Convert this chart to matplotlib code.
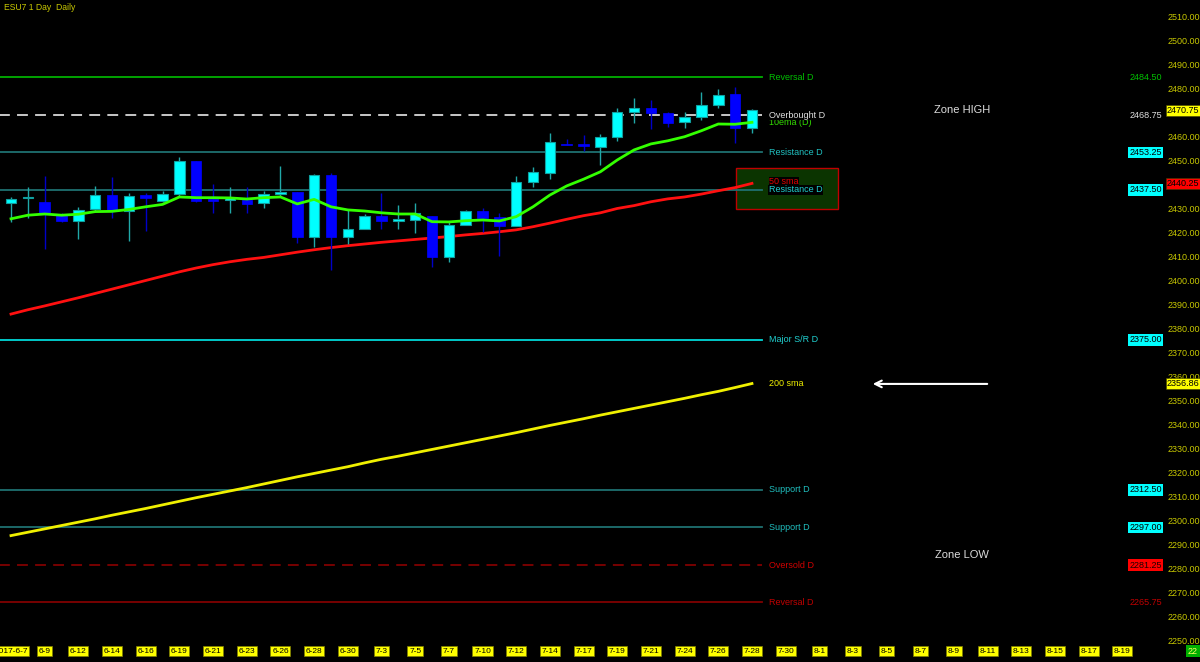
import numpy as np
import matplotlib
matplotlib.use('Agg')
import matplotlib.pyplot as plt
from matplotlib.patches import Rectangle

plt.rcParams['font.family'] = ['Liberation Sans', 'DejaVu Sans']

# daily candles, ESU7
opens = [2432.1, 2434.0, 2432.4, 2427.5, 2424.7, 2429.4, 2435.4, 2428.9, 2435.3, 2432.9,
         2435.8, 2449.6, 2433.5, 2433.4, 2433.3, 2432.0, 2436.0, 2436.7, 2417.8, 2443.6,
         2418.0, 2421.4, 2426.8, 2424.7, 2424.9, 2426.8, 2409.6, 2423.1, 2428.7, 2426.1,
         2422.6, 2440.7, 2444.7, 2456.75, 2456.75, 2455.5, 2459.7, 2470.0, 2471.7, 2469.4,
         2465.7, 2467.8, 2472.8, 2477.5, 2463.5]
highs = [2434.6, 2438.9, 2443.3, 2428.0, 2430.3, 2439.2, 2442.8, 2436.1, 2436.4, 2437.1,
         2451.4, 2449.6, 2440.0, 2438.6, 2438.6, 2437.0, 2447.5, 2436.7, 2444.2, 2444.7,
         2429.2, 2427.5, 2436.4, 2431.2, 2432.0, 2426.8, 2424.7, 2429.0, 2429.9, 2427.8,
         2443.5, 2447.0, 2461.1, 2458.75, 2460.4, 2460.8, 2471.7, 2476.0, 2475.0, 2469.9,
         2470.1, 2478.3, 2479.6, 2480.3, 2471.4]
lows = [2424.2, 2425.8, 2412.8, 2424.3, 2417.0, 2428.5, 2425.7, 2416.4, 2420.4, 2432.4,
        2435.0, 2432.5, 2427.8, 2427.8, 2428.0, 2430.0, 2434.7, 2415.3, 2413.9, 2404.2,
        2415.0, 2421.4, 2421.2, 2421.1, 2419.5, 2405.3, 2407.6, 2423.1, 2420.1, 2410.0,
        2422.6, 2438.9, 2442.0, 2456.25, 2453.9, 2447.9, 2458.0, 2465.5, 2462.8, 2463.6,
        2463.5, 2466.7, 2471.5, 2457.0, 2461.4]
closes = [2433.7, 2434.4, 2427.5, 2424.7, 2429.2, 2435.4, 2429.2, 2435.0, 2434.3, 2435.7,
          2449.6, 2433.1, 2433.0, 2434.2, 2431.5, 2436.0, 2436.8, 2417.8, 2443.6, 2418.0,
          2421.2, 2426.8, 2424.7, 2425.1, 2427.8, 2409.5, 2423.1, 2428.7, 2425.7, 2422.6,
          2440.8, 2444.9, 2457.4, 2456.25, 2455.75, 2459.7, 2470.1, 2471.7, 2469.7, 2465.5,
          2467.8, 2472.9, 2477.1, 2463.5, 2470.75]

ema10 = [2425.5, 2427.0, 2427.5, 2427.0, 2427.4, 2428.5, 2428.6, 2429.4, 2430.5, 2431.5,
         2434.6, 2434.3, 2434.3, 2434.2, 2433.75, 2434.3, 2434.6, 2431.7, 2433.6, 2430.5,
         2429.2, 2428.75, 2428.0, 2427.5, 2427.5, 2424.3, 2424.2, 2424.7, 2425.0, 2424.6,
         2426.4, 2430.5, 2435.4, 2439.2, 2442.0, 2445.1, 2450.0, 2454.2, 2456.7, 2458.0,
         2459.7, 2462.2, 2465.0, 2464.9, 2465.7]
sma50 = [2385.8, 2387.6, 2389.2, 2390.9, 2392.6, 2394.4, 2396.2, 2398.0, 2399.8, 2401.6,
         2403.4, 2405.0, 2406.4, 2407.6, 2408.6, 2409.4, 2410.5, 2411.6, 2412.6, 2413.5,
         2414.3, 2415.0, 2415.7, 2416.3, 2416.9, 2417.5, 2418.1, 2418.8, 2419.4, 2420.1,
         2420.9, 2422.2, 2423.7, 2425.3, 2426.8, 2428.0, 2429.8, 2431.0, 2432.6, 2433.8,
         2434.6, 2435.8, 2437.2, 2438.5, 2440.25]
sma200 = [2293.5, 2294.9, 2296.3, 2297.7, 2299.1, 2300.5, 2302.0, 2303.4, 2304.8, 2306.3,
          2307.8, 2309.3, 2310.7, 2312.1, 2313.5, 2315.0, 2316.5, 2318.0, 2319.4, 2320.8,
          2322.2, 2323.8, 2325.3, 2326.6, 2328.0, 2329.4, 2330.8, 2332.2, 2333.6, 2335.0,
          2336.4, 2337.9, 2339.4, 2340.8, 2342.2, 2343.7, 2345.1, 2346.5, 2347.9, 2349.3,
          2350.7, 2352.2, 2353.6, 2355.2, 2356.86]

date_labels = ['2017-6-7', '6-9', '6-12', '6-14', '6-16', '6-19', '6-21', '6-23', '6-26',
               '6-28', '6-30', '7-3', '7-5', '7-7', '7-10', '7-12', '7-14', '7-17', '7-19',
               '7-21', '7-24', '7-26', '7-28', '7-30', '8-1', '8-3', '8-5', '8-7', '8-9',
               '8-11', '8-13', '8-15', '8-17', '8-19']

level_values = [2484.50, 2468.75, 2453.25, 2437.50, 2375.00, 2312.50, 2297.00, 2281.25, 2265.75]
level_names = ['Reversal D', 'Overbought D', 'Resistance D', 'Resistance D', 'Major S/R D',
               'Support D', 'Support D', 'Oversold D', 'Reversal D']

zone_low, zone_high = 2429.6, 2446.7

# styles for the levels (same order): line colour, dash, text colour, marker box
lv_style = [('#00b000', '-', '#00c000', None),
            ('#d8d8d8', (0, (6, 4)), '#e0e0e0', 'none'),
            ('#1f7070', '-', '#20c0c0', 'cyan'),
            ('#1f7070', '-', '#20d0d0', 'cyan'),
            ('#00d8d8', '-', '#20d0d0', 'cyan'),
            ('#1f7070', '-', '#20c0c0', 'cyan'),
            ('#1f7070', '-', '#20c0c0', 'cyan'),
            ('#800000', (0, (6, 4)), '#d00000', 'red'),
            ('#800000', '-', '#c00000', 'none')]

W, H = 1200, 662
PX = 16.84
fig = plt.figure(figsize=(W / 100, H / 100), dpi=100, facecolor='black')
ax = fig.add_axes([0, 20 / H, 1163 / W, 642 / H])
ax.set_facecolor('black')
ax.set_xlim(-11 / PX, (1163 - 11) / PX)
ax.set_ylim(2250 - 2 / 2.4, 2510 + 16 / 2.4)
for s in ax.spines.values():
    s.set_visible(False)

n = len(opens)
xs = np.arange(n)
o = np.array(opens); c = np.array(closes)
up = c >= o
bot = np.minimum(o, c)
hgt = np.maximum(np.abs(c - o), 0.6)

# zone box
ax.add_patch(Rectangle((43.05, zone_low), 6.05, zone_high - zone_low, fc='#0b3400',
                       ec='#c00000', lw=1, zorder=1))

# level lines
x_end = (762 - 11) / PX
x_lab = (769 - 11) / PX
for v, nm, st in zip(level_values, level_names, lv_style):
    ax.plot([-1, x_end], [v, v], color=st[0], ls=st[1], lw=1.3, zorder=2)

# moving averages
ax.plot(xs, sma200, color='#f0f000', lw=2, zorder=3)
ax.plot(xs, sma50, color='#ff1010', lw=2, zorder=3)

# candles
ax.vlines(xs[up], np.array(lows)[up], np.array(highs)[up], color='#20a8a8', lw=1, zorder=4)
ax.vlines(xs[~up], np.array(lows)[~up], np.array(highs)[~up], color='#0000c8', lw=1, zorder=4)
ax.bar(xs[up], hgt[up], bottom=bot[up], width=0.62, color='#00ffff', edgecolor='#10a0a0',
       lw=0.8, zorder=5)
ax.bar(xs[~up], hgt[~up], bottom=bot[~up], width=0.62, color='#0000ff', edgecolor='#0000ff',
       lw=0.5, zorder=5)

ax.plot(xs, ema10, color='#33ff00', lw=2, zorder=6)

# labels near lines
fs = 6.5
ax.text(x_lab, ema10[-1] - 0.1, '10ema (D)', color='#33dd00', fontsize=fs, va='center', zorder=7)
ax.text(x_lab, sma50[-1] + 0.6, '50 sma', color='#e00000', fontsize=fs, va='center', zorder=7,
        bbox=dict(fc='black', ec='none', pad=0.3))
ax.text(x_lab, sma200[-1], '200 sma', color='#f0f000', fontsize=fs, va='center', zorder=7)
for v, nm, st in zip(level_values, level_names, lv_style):
    bb = dict(fc='black', ec='none', pad=0.6) if nm == 'Overbought D' or v == 2437.50 else None
    ax.text(x_lab, v, nm, color=st[2], fontsize=fs, va='center', zorder=8, bbox=bb)

# right-side price markers
x_mark = (1163 - 12) / PX
for v, st in zip(level_values, lv_style):
    lbl = '%.2f' % v
    if st[3] == 'cyan':
        ax.text(x_mark, v, lbl, color='black', fontsize=fs, ha='right', va='center', zorder=9,
                clip_on=False, bbox=dict(fc='#00ffff', ec='none', pad=0.8))
    elif st[3] == 'red':
        ax.text(x_mark, v, lbl, color='#200000', fontsize=fs, ha='right', va='center', zorder=9,
                clip_on=False, bbox=dict(fc='#ff0000', ec='none', pad=0.8))
    else:
        ax.text(x_mark, v, lbl, color=st[2], fontsize=fs, ha='right', va='center', zorder=9,
                clip_on=False)

x_col = (1167 - 11) / PX
for v, fc in [(closes[-1], '#ffff00'), (sma50[-1], '#ff0000'), (sma200[-1], '#ffff00')]:
    ax.text(x_col, v, '%.2f' % v, color='black', fontsize=fs, ha='left', va='center', zorder=9,
            clip_on=False, bbox=dict(fc=fc, ec='#404000', lw=0.4, pad=0.8))

# zones and arrow
ax.text((962 - 11) / PX, 2470.8, 'Zone HIGH', color='#dcdcdc', fontsize=8, ha='center', va='center')
ax.text((962 - 11) / PX, 2285.4, 'Zone LOW', color='#dcdcdc', fontsize=8, ha='center', va='center')
ax.annotate('', xy=((870 - 11) / PX, 2356.7), xytext=((990 - 11) / PX, 2356.7),
            arrowprops=dict(arrowstyle='->', color='white', lw=1.5, mutation_scale=12))

# axes (2470 / 2440 tick labels sit under the price boxes, hidden as in the platform)
yt = np.arange(2250, 2511, 10)
ax.yaxis.tick_right()
ax.set_yticks(yt)
ax.set_yticklabels(['' if t in (2470, 2440) else '%.2f' % t for t in yt])
ax.tick_params(axis='y', length=0, pad=3, labelcolor='#c8c800', labelsize=fs)
ax.set_xticks(np.arange(0, 2 * len(date_labels), 2))
ax.set_xticklabels(date_labels)
ax.tick_params(axis='x', length=0, pad=4, labelcolor='black', labelsize=6)
for t in ax.get_xticklabels():
    t.set_bbox(dict(fc='#ffff00', ec='#808000', lw=0.5, pad=1.2))

fig.text(4 / W, 1 - 8 / H, 'ESU7 1 Day  Daily', color='#c8c800', fontsize=6.2, va='center')
fig.text(1193 / W, 11 / H, '22', color='#ffff60', fontsize=6.5, ha='center', va='center',
         bbox=dict(fc='#00b000', ec='none', pad=1.2))

fig.savefig('out.png', dpi=100, facecolor='black')
